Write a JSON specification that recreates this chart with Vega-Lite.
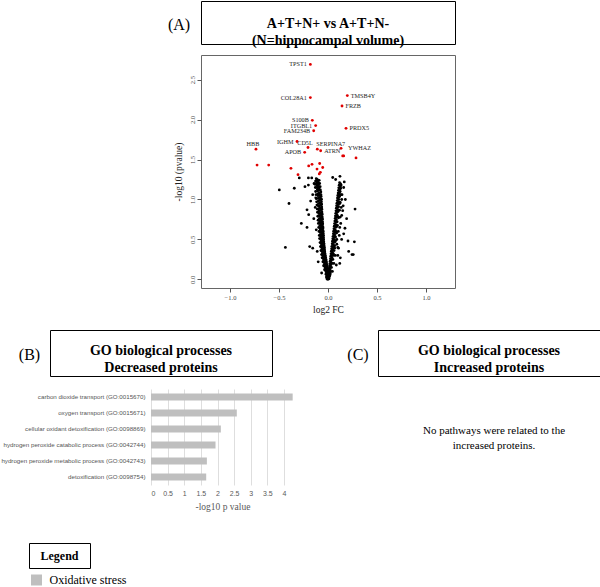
{
  "$schema": "https://vega.github.io/schema/vega-lite/v6.json",
  "padding": 0,
  "autosize": {"type": "pad"},
  "background": "white",
  "config": {"view": {"stroke": null}, "text": {"font": "Liberation Serif"}},
  "datasets": {
    "volcano": [
      {"fc":0.0,"p":0.0},{"fc":-0.01,"p":0.005},{"fc":0.01,"p":0.008},{"fc":0.003,"p":0.015},{"fc":-0.007,"p":0.045},{"fc":0.015,"p":0.035},
      {"fc":-0.015,"p":0.03},{"fc":0.018,"p":0.05},{"fc":-0.02,"p":0.065},{"fc":0.022,"p":0.075},{"fc":-0.012,"p":0.02},{"fc":0.008,"p":0.012},
      {"fc":0.002,"p":0.01},{"fc":-0.004,"p":0.02},{"fc":0.006,"p":0.025},{"fc":-0.009,"p":0.035},{"fc":0.001,"p":0.04},{"fc":0.009,"p":0.048},
      {"fc":-0.013,"p":0.055},{"fc":-0.003,"p":0.062},{"fc":0.012,"p":0.07},{"fc":-0.017,"p":0.078},{"fc":-0.006,"p":0.085},{"fc":0.004,"p":0.092},
      {"fc":-0.021,"p":0.1},{"fc":-0.011,"p":0.108},{"fc":0.014,"p":0.114},{"fc":-0.025,"p":0.122},{"fc":-0.014,"p":0.13},{"fc":-0.003,"p":0.137},
      {"fc":-0.029,"p":0.145},{"fc":-0.018,"p":0.152},{"fc":-0.008,"p":0.16},{"fc":-0.033,"p":0.168},{"fc":-0.022,"p":0.175},{"fc":-0.011,"p":0.183},
      {"fc":-0.036,"p":0.19},{"fc":-0.026,"p":0.198},{"fc":-0.015,"p":0.205},{"fc":-0.04,"p":0.213},{"fc":-0.029,"p":0.221},{"fc":-0.018,"p":0.228},
      {"fc":-0.044,"p":0.236},{"fc":-0.033,"p":0.244},{"fc":-0.021,"p":0.251},{"fc":-0.047,"p":0.259},{"fc":-0.036,"p":0.266},{"fc":-0.024,"p":0.274},
      {"fc":-0.051,"p":0.282},{"fc":-0.039,"p":0.289},{"fc":-0.027,"p":0.297},{"fc":-0.054,"p":0.305},{"fc":-0.042,"p":0.312},{"fc":-0.03,"p":0.32},
      {"fc":-0.057,"p":0.328},{"fc":-0.045,"p":0.336},{"fc":-0.033,"p":0.343},{"fc":-0.06,"p":0.352},{"fc":-0.047,"p":0.36},{"fc":-0.035,"p":0.368},
      {"fc":-0.062,"p":0.377},{"fc":-0.05,"p":0.385},{"fc":-0.037,"p":0.393},{"fc":-0.065,"p":0.402},{"fc":-0.052,"p":0.41},{"fc":-0.039,"p":0.418},
      {"fc":-0.067,"p":0.427},{"fc":-0.054,"p":0.436},{"fc":-0.041,"p":0.444},{"fc":-0.069,"p":0.453},{"fc":-0.056,"p":0.462},{"fc":-0.043,"p":0.47},
      {"fc":-0.071,"p":0.479},{"fc":-0.058,"p":0.488},{"fc":-0.045,"p":0.497},{"fc":-0.073,"p":0.506},{"fc":-0.06,"p":0.515},{"fc":-0.046,"p":0.524},
      {"fc":-0.075,"p":0.533},{"fc":-0.061,"p":0.542},{"fc":-0.048,"p":0.551},{"fc":-0.077,"p":0.56},{"fc":-0.063,"p":0.569},{"fc":-0.049,"p":0.578},
      {"fc":-0.079,"p":0.588},{"fc":-0.065,"p":0.597},{"fc":-0.051,"p":0.606},{"fc":-0.08,"p":0.616},{"fc":-0.066,"p":0.625},{"fc":-0.052,"p":0.634},
      {"fc":-0.082,"p":0.644},{"fc":-0.068,"p":0.653},{"fc":-0.054,"p":0.663},{"fc":-0.083,"p":0.673},{"fc":-0.069,"p":0.682},{"fc":-0.055,"p":0.692},
      {"fc":-0.085,"p":0.702},{"fc":-0.071,"p":0.712},{"fc":-0.056,"p":0.721},{"fc":-0.086,"p":0.731},{"fc":-0.072,"p":0.741},{"fc":-0.058,"p":0.751},
      {"fc":-0.088,"p":0.761},{"fc":-0.074,"p":0.771},{"fc":-0.059,"p":0.781},{"fc":-0.089,"p":0.791},{"fc":-0.075,"p":0.801},{"fc":-0.06,"p":0.811},
      {"fc":-0.091,"p":0.822},{"fc":-0.076,"p":0.832},{"fc":-0.062,"p":0.842},{"fc":-0.092,"p":0.853},{"fc":-0.078,"p":0.863},{"fc":-0.063,"p":0.873},
      {"fc":-0.094,"p":0.884},{"fc":-0.079,"p":0.894},{"fc":-0.064,"p":0.905},{"fc":-0.095,"p":0.916},{"fc":-0.081,"p":0.926},{"fc":-0.066,"p":0.937},
      {"fc":-0.097,"p":0.948},{"fc":-0.082,"p":0.959},{"fc":-0.067,"p":0.97},{"fc":-0.098,"p":0.981},{"fc":-0.084,"p":0.992},{"fc":-0.069,"p":1.003},
      {"fc":-0.1,"p":1.014},{"fc":-0.085,"p":1.025},{"fc":-0.07,"p":1.037},{"fc":-0.102,"p":1.048},{"fc":-0.087,"p":1.059},{"fc":-0.104,"p":1.071},
      {"fc":-0.089,"p":1.082},{"fc":-0.073,"p":1.093},{"fc":-0.106,"p":1.105},{"fc":-0.091,"p":1.117},{"fc":-0.108,"p":1.129},{"fc":-0.093,"p":1.14},
      {"fc":-0.11,"p":1.152},{"fc":-0.095,"p":1.164},{"fc":-0.113,"p":1.176},{"fc":-0.098,"p":1.188},{"fc":-0.116,"p":1.2},{"fc":-0.1,"p":1.212},
      {"fc":-0.119,"p":1.225},{"fc":-0.104,"p":1.237},{"fc":-0.11,"p":1.25},
      {"fc":-0.035,"p":0.12},{"fc":-0.045,"p":0.17},{"fc":-0.052,"p":0.22},{"fc":-0.06,"p":0.27},{"fc":-0.066,"p":0.31},{"fc":-0.072,"p":0.36},
      {"fc":-0.077,"p":0.41},{"fc":-0.081,"p":0.46},{"fc":-0.086,"p":0.51},{"fc":-0.089,"p":0.55},{"fc":-0.092,"p":0.6},{"fc":-0.095,"p":0.65},
      {"fc":-0.098,"p":0.7},{"fc":-0.101,"p":0.74},{"fc":-0.104,"p":0.79},{"fc":-0.107,"p":0.84},{"fc":-0.11,"p":0.88},{"fc":-0.113,"p":0.93},
      {"fc":-0.116,"p":0.97},{"fc":-0.119,"p":1.01},{"fc":-0.122,"p":1.06},{"fc":-0.126,"p":1.1},{"fc":-0.129,"p":1.15},{"fc":-0.133,"p":1.19},
      {"fc":-0.127,"p":1.23},{"fc":-0.12,"p":1.26},{"fc":-0.09,"p":1.24},{"fc":-0.085,"p":1.2},{"fc":-0.08,"p":1.16},{"fc":-0.078,"p":1.12},
      {"fc":-0.02,"p":0.16},{"fc":-0.024,"p":0.2},{"fc":-0.028,"p":0.25},{"fc":-0.032,"p":0.3},{"fc":-0.036,"p":0.35},{"fc":-0.04,"p":0.4},
      {"fc":-0.043,"p":0.45},{"fc":-0.046,"p":0.5},{"fc":-0.048,"p":0.55},{"fc":-0.05,"p":0.6},{"fc":-0.052,"p":0.65},{"fc":-0.055,"p":0.7},
      {"fc":-0.058,"p":0.76},{"fc":-0.061,"p":0.82},{"fc":-0.063,"p":0.88},{"fc":-0.066,"p":0.94},{"fc":-0.068,"p":1.0},{"fc":-0.072,"p":1.06},
      {"fc":0.008,"p":0.03},{"fc":0.013,"p":0.055},{"fc":0.004,"p":0.07},{"fc":0.017,"p":0.09},{"fc":0.009,"p":0.105},{"fc":0.021,"p":0.12},
      {"fc":0.012,"p":0.138},{"fc":0.025,"p":0.15},{"fc":0.016,"p":0.168},{"fc":0.029,"p":0.182},{"fc":0.019,"p":0.197},{"fc":0.032,"p":0.213},
      {"fc":0.022,"p":0.228},{"fc":0.036,"p":0.244},{"fc":0.025,"p":0.258},{"fc":0.04,"p":0.275},{"fc":0.028,"p":0.29},{"fc":0.058,"p":0.3},
      {"fc":0.043,"p":0.306},{"fc":0.031,"p":0.321},{"fc":0.046,"p":0.337},{"fc":0.034,"p":0.352},{"fc":0.05,"p":0.368},{"fc":0.037,"p":0.383},
      {"fc":0.068,"p":0.39},{"fc":0.053,"p":0.399},{"fc":0.04,"p":0.414},{"fc":0.056,"p":0.43},{"fc":0.043,"p":0.446},{"fc":0.059,"p":0.461},
      {"fc":0.046,"p":0.477},{"fc":0.078,"p":0.485},{"fc":0.062,"p":0.492},{"fc":0.049,"p":0.508},{"fc":0.065,"p":0.524},{"fc":0.052,"p":0.539},
      {"fc":0.068,"p":0.555},{"fc":0.055,"p":0.571},{"fc":0.088,"p":0.58},{"fc":0.071,"p":0.587},{"fc":0.058,"p":0.602},{"fc":0.074,"p":0.618},
      {"fc":0.061,"p":0.634},{"fc":0.077,"p":0.65},{"fc":0.064,"p":0.666},{"fc":0.097,"p":0.675},{"fc":0.08,"p":0.682},{"fc":0.067,"p":0.698},
      {"fc":0.083,"p":0.714},{"fc":0.07,"p":0.73},{"fc":0.086,"p":0.746},{"fc":0.073,"p":0.762},{"fc":0.108,"p":0.77},{"fc":0.089,"p":0.778},
      {"fc":0.076,"p":0.794},{"fc":0.092,"p":0.81},{"fc":0.079,"p":0.826},{"fc":0.095,"p":0.842},{"fc":0.082,"p":0.858},{"fc":0.117,"p":0.866},
      {"fc":0.098,"p":0.874},{"fc":0.085,"p":0.89},{"fc":0.101,"p":0.906},{"fc":0.088,"p":0.922},{"fc":0.104,"p":0.938},{"fc":0.091,"p":0.954},
      {"fc":0.125,"p":0.962},{"fc":0.107,"p":0.97},{"fc":0.094,"p":0.986},{"fc":0.11,"p":1.002},{"fc":0.097,"p":1.018},{"fc":0.113,"p":1.034},
      {"fc":0.1,"p":1.05},{"fc":0.131,"p":1.06},{"fc":0.116,"p":1.066},{"fc":0.104,"p":1.082},{"fc":0.119,"p":1.098},{"fc":0.107,"p":1.114},
      {"fc":0.122,"p":1.13},{"fc":0.11,"p":1.146},{"fc":0.126,"p":1.162},{"fc":0.114,"p":1.178},{"fc":0.129,"p":1.195},{"fc":0.118,"p":1.21},
      {"fc":0.02,"p":0.06},{"fc":0.028,"p":0.1},{"fc":0.035,"p":0.15},{"fc":0.042,"p":0.2},{"fc":0.05,"p":0.25},{"fc":0.055,"p":0.32},
      {"fc":0.062,"p":0.36},{"fc":0.068,"p":0.42},{"fc":0.072,"p":0.47},{"fc":0.077,"p":0.53},{"fc":0.082,"p":0.6},{"fc":0.088,"p":0.66},
      {"fc":0.093,"p":0.72},{"fc":0.098,"p":0.79},{"fc":0.103,"p":0.85},{"fc":0.108,"p":0.91},{"fc":0.113,"p":0.97},{"fc":0.118,"p":1.04},
      {"fc":0.124,"p":1.1},{"fc":0.129,"p":1.14},{"fc":0.134,"p":1.18},{"fc":0.06,"p":0.2},{"fc":0.075,"p":0.3},{"fc":0.09,"p":0.5},
      {"fc":0.1,"p":0.4},{"fc":0.115,"p":0.55},{"fc":0.12,"p":0.65},{"fc":0.125,"p":0.78},{"fc":0.135,"p":0.9},{"fc":0.14,"p":1.0},
      {"fc":-0.497,"p":1.12},{"fc":-0.398,"p":0.95},{"fc":-0.344,"p":1.14},{"fc":-0.272,"p":0.7},{"fc":-0.214,"p":0.87},{"fc":-0.214,"p":0.65},
      {"fc":-0.197,"p":0.81},{"fc":-0.435,"p":0.4},{"fc":-0.187,"p":0.41},{"fc":-0.156,"p":0.39},{"fc":-0.293,"p":1.27},{"fc":-0.235,"p":1.16},
      {"fc":-0.2,"p":1.18},{"fc":-0.2,"p":1.27},{"fc":-0.166,"p":1.27},{"fc":-0.142,"p":1.2},{"fc":-0.156,"p":1.06},{"fc":-0.177,"p":0.98},
      {"fc":0.048,"p":1.275},{"fc":0.122,"p":1.29},{"fc":0.166,"p":1.22},{"fc":0.078,"p":1.25},{"fc":0.276,"p":0.88},{"fc":0.177,"p":1.0},
      {"fc":0.16,"p":1.15},{"fc":0.143,"p":1.06},{"fc":0.15,"p":0.86},{"fc":0.139,"p":0.5},{"fc":0.204,"p":0.48},{"fc":0.269,"p":0.47},
      {"fc":0.211,"p":0.35},{"fc":0.245,"p":0.31},{"fc":0.258,"p":0.31},{"fc":0.126,"p":0.27},{"fc":0.09,"p":0.44},{"fc":0.107,"p":0.39},
      {"fc":0.173,"p":0.64},{"fc":0.19,"p":0.76},{"fc":0.16,"p":0.57},{"fc":-0.13,"p":0.9},{"fc":-0.12,"p":0.62},{"fc":-0.11,"p":0.35},
      {"fc":-0.1,"p":0.22},{"fc":0.13,"p":0.7},{"fc":0.12,"p":0.95},{"fc":0.105,"p":0.6},{"fc":0.14,"p":0.8},{"fc":0.155,"p":0.92},
      {"fc":-0.145,"p":0.76},{"fc":-0.125,"p":1.02},{"fc":0.085,"p":0.18},{"fc":-0.065,"p":0.08},{"fc":0.045,"p":0.1},{"fc":0.12,"p":0.2},{"fc":0.1,"p":0.3},
      {"fc":-0.724,"p":1.43},{"fc":-0.605,"p":1.43},{"fc":-0.378,"p":1.39},{"fc":-0.306,"p":1.31},{"fc":-0.197,"p":1.42},{"fc":-0.163,"p":1.44},
      {"fc":-0.112,"p":1.38},{"fc":-0.085,"p":1.45},{"fc":-0.054,"p":1.4},{"fc":-0.078,"p":1.34},{"fc":-0.089,"p":1.32},
      {"fc":0.15,"p":1.545},{"fc":0.16,"p":1.545},{"fc":0.286,"p":1.52},
      {"fc":-0.18,"p":2.69,"g":"TPST1"},{"fc":-0.18,"p":2.275,"g":"COL28A1"},{"fc":0.197,"p":2.3,"g":"TMSB4Y"},
      {"fc":0.143,"p":2.17,"g":"FRZB"},{"fc":-0.16,"p":1.99,"g":"S100B"},{"fc":-0.126,"p":1.925,"g":"ITGBL1"},
      {"fc":-0.146,"p":1.86,"g":"FAM234B"},{"fc":0.184,"p":1.89,"g":"PRDX5"},{"fc":-0.735,"p":1.63,"g":"HBB"},
      {"fc":-0.316,"p":1.725,"g":"IGHM"},{"fc":-0.204,"p":1.65,"g":"CD5L"},{"fc":-0.109,"p":1.63,"g":"SERPINA7"},
      {"fc":-0.075,"p":1.61,"g":"ATRN"},{"fc":-0.238,"p":1.59,"g":"APOB"},{"fc":0.133,"p":1.64,"g":"YWHAZ"}
    ],
    "go": [
      {"term":"carbon dioxide transport (GO:0015670)","v":4.26},
      {"term":"oxygen transport (GO:0015671)","v":2.58},
      {"term":"cellular oxidant detoxification (GO:0098869)","v":2.1},
      {"term":"hydrogen peroxide catabolic process (GO:0042744)","v":1.94},
      {"term":"hydrogen peroxide metabolic process (GO:0042743)","v":1.68},
      {"term":"detoxification (GO:0098754)","v":1.66}
    ]
  },
  "bounds": "flush",
  "spacing": 0,
  "vconcat": [
    {
      "bounds": "flush", "spacing": 0,
      "hconcat": [
        {"width": 156, "height": 43, "data": {"values": []}, "mark": "text", "encoding": {}},
        {"width": 44, "height": 43, "data": {"values": [{"t": "(A)"}]},
         "mark": {"type": "text", "font": "Liberation Serif", "fontSize": 16, "dy": 2, "color": "black"},
         "encoding": {"text": {"field": "t"}}},
        {"width": 254, "height": 43, "view": {"stroke": "black", "strokeWidth": 1},
         "data": {"values": [{"t": "A+T+N+ vs A+T+N-\n(N=hippocampal volume)"}]},
         "mark": {"type": "text", "font": "Liberation Serif", "fontSize": 14, "fontWeight": "bold", "lineBreak": "\n", "lineHeight": 17, "dy": 1, "color": "black"},
         "encoding": {"text": {"field": "t"}}}
      ]
    },
    {"width": 10, "height": 54, "data": {"values": []}, "mark": "text", "encoding": {}},
    {
      "bounds": "flush", "spacing": 0,
      "hconcat": [
        {"width": 200, "height": 233, "data": {"values": []}, "mark": "text", "encoding": {}},
        {
          "width": 254, "height": 233,
          "view": {"stroke": "#666", "strokeWidth": 1},
          "data": {"name": "volcano"},
          "encoding": {
            "x": {"field": "fc", "type": "quantitative",
                  "scale": {"domain": [-1.296, 1.296], "nice": false, "zero": false},
                  "axis": {"values": [-1, -0.5, 0, 0.5, 1], "format": ".1f", "title": "log2 FC", "grid": false, "domain": false,
                           "tickColor": "#555", "tickSize": 4, "labelFont": "Liberation Serif", "labelFontSize": 6.5, "labelColor": "#444",
                           "labelPadding": 2, "titleFont": "Liberation Serif", "titleFontSize": 9.5, "titleFontWeight": "normal",
                           "titleColor": "#222", "titlePadding": 4}},
            "y": {"field": "p", "type": "quantitative",
                  "scale": {"domain": [-0.108, 2.808], "nice": false, "zero": false},
                  "axis": {"values": [0, 0.5, 1, 1.5, 2, 2.5], "format": ".1f", "title": "-log10 (pvalue)", "grid": false, "domain": false,
                           "tickColor": "#555", "tickSize": 4, "labelFont": "Liberation Serif", "labelFontSize": 6.5, "labelColor": "#444",
                           "labelAngle": 270, "labelAlign": "center", "labelBaseline": "bottom", "labelPadding": 2,
                           "titleFont": "Liberation Serif", "titleFontSize": 9.5, "titleFontWeight": "normal",
                           "titleColor": "#222", "titlePadding": 6}}
          },
          "layer": [
            {"mark": {"type": "circle", "size": 8, "opacity": 1},
             "encoding": {"color": {"condition": {"test": "datum.p > 1.301", "value": "#e00000"}, "value": "black"}}},
            {"transform": [{"filter": {"field": "g", "oneOf": ["TPST1", "COL28A1", "S100B", "ITGBL1", "FAM234B", "IGHM", "APOB"]}}],
             "mark": {"type": "text", "font": "Liberation Serif", "align": "right", "dx": -3.5, "fontSize": 6.2, "color": "#222"},
             "encoding": {"text": {"field": "g"}}},
            {"transform": [{"filter": {"field": "g", "oneOf": ["TMSB4Y", "FRZB", "PRDX5", "ATRN"]}}],
             "mark": {"type": "text", "font": "Liberation Serif", "align": "left", "dx": 3.5, "fontSize": 6.2, "color": "#222"},
             "encoding": {"text": {"field": "g"}}},
            {"transform": [{"filter": {"field": "g", "oneOf": ["YWHAZ"]}}],
             "mark": {"type": "text", "font": "Liberation Serif", "align": "left", "dx": 7, "fontSize": 6.2, "color": "#222"},
             "encoding": {"text": {"field": "g"}}},
            {"transform": [{"filter": {"field": "g", "oneOf": ["HBB", "CD5L"]}}],
             "mark": {"type": "text", "font": "Liberation Serif", "align": "center", "dx": -3, "dy": -5, "fontSize": 6.2, "color": "#222"},
             "encoding": {"text": {"field": "g"}}},
            {"transform": [{"filter": {"field": "g", "oneOf": ["SERPINA7"]}}],
             "mark": {"type": "text", "font": "Liberation Serif", "align": "left", "dx": -1, "dy": -5.5, "fontSize": 6.2, "color": "#222"},
             "encoding": {"text": {"field": "g"}}}
          ]
        }
      ]
    },
    {"width": 10, "height": 275, "data": {"values": []}, "mark": "text", "encoding": {}},
    {
      "bounds": "flush", "spacing": 0,
      "hconcat": [
        {"width": 8, "height": 46, "data": {"values": []}, "mark": "text", "encoding": {}},
        {"width": 41, "height": 46, "data": {"values": [{"t": "(B)"}]},
         "mark": {"type": "text", "font": "Liberation Serif", "fontSize": 16, "dy": 2, "color": "black"},
         "encoding": {"text": {"field": "t"}}},
        {"width": 222, "height": 46, "view": {"stroke": "black", "strokeWidth": 1},
         "data": {"values": [{"t": "GO biological processes\nDecreased proteins"}]},
         "mark": {"type": "text", "font": "Liberation Serif", "fontSize": 14, "fontWeight": "bold", "lineBreak": "\n", "lineHeight": 17, "dy": -2, "color": "black"},
         "encoding": {"text": {"field": "t"}}},
        {"width": 66, "height": 46, "data": {"values": []}, "mark": "text", "encoding": {}},
        {"width": 40, "height": 46, "data": {"values": [{"t": "(C)"}]},
         "mark": {"type": "text", "font": "Liberation Serif", "fontSize": 16, "dy": 2, "color": "black"},
         "encoding": {"text": {"field": "t"}}},
        {"width": 222, "height": 46, "view": {"stroke": "black", "strokeWidth": 1},
         "data": {"values": [{"t": "GO biological processes\nIncreased proteins"}]},
         "mark": {"type": "text", "font": "Liberation Serif", "fontSize": 14, "fontWeight": "bold", "lineBreak": "\n", "lineHeight": 17, "dy": -2, "color": "black"},
         "encoding": {"text": {"field": "t"}}}
      ]
    },
    {"width": 10, "height": 59, "data": {"values": []}, "mark": "text", "encoding": {}},
    {
      "bounds": "flush", "spacing": 0,
      "hconcat": [
        {"width": 150, "height": 96, "data": {"values": []}, "mark": "text", "encoding": {}},
        {
          "width": 143, "height": 96,
          "data": {"name": "go"},
          "mark": {"type": "bar", "color": "#bfbfbf"},
          "encoding": {
            "y": {"field": "term", "type": "nominal", "sort": null,
                  "scale": {"paddingInner": 0.55, "paddingOuter": 0.275},
                  "axis": {"title": null, "domain": false, "ticks": false, "labelPadding": 6, "labelFont": "Liberation Sans",
                           "labelFontSize": 6.2, "labelColor": "#555555", "labelLimit": 200}},
            "x": {"field": "v", "type": "quantitative",
                  "scale": {"domain": [0, 4.3], "nice": false},
                  "axis": {"values": [0, 0.5, 1, 1.5, 2, 2.5, 3, 3.5, 4], "format": "~g", "grid": true, "gridColor": "#dedede",
                           "domain": false, "ticks": false, "labelPadding": 4, "labelFont": "Liberation Sans", "labelFontSize": 7,
                           "labelColor": "#595959", "title": "-log10 p value", "titleFont": "Liberation Serif", "titleFontSize": 9.5,
                           "titleFontWeight": "normal", "titleColor": "#595959", "titlePadding": 5}}
          }
        },
        {"width": 150, "height": 83, "data": {"values": []}, "mark": "text", "encoding": {}},
        {"width": 100, "height": 83, "data": {"values": [{"t": "No pathways were related to the\nincreased proteins."}]},
         "mark": {"type": "text", "font": "Liberation Serif", "fontSize": 11, "lineBreak": "\n", "lineHeight": 15, "color": "black"},
         "encoding": {"text": {"field": "t"}}}
      ]
    },
    {"width": 10, "height": 154, "data": {"values": []}, "mark": "text", "encoding": {}},
    {
      "bounds": "flush", "spacing": 0,
      "hconcat": [
        {"width": 28, "height": 25, "data": {"values": []}, "mark": "text", "encoding": {}},
        {"width": 61, "height": 25, "view": {"stroke": "black", "strokeWidth": 1},
         "data": {"values": [{"t": "Legend"}]},
         "mark": {"type": "text", "font": "Liberation Serif", "fontSize": 12, "fontWeight": "bold", "color": "black"},
         "encoding": {"text": {"field": "t"}}}
      ]
    },
    {"width": 10, "height": 31, "data": {"values": []}, "mark": "text", "encoding": {}},
    {
      "bounds": "flush", "spacing": 0,
      "hconcat": [
        {"width": 30, "height": 12, "data": {"values": []}, "mark": "text", "encoding": {}},
        {"width": 11, "height": 12, "data": {"values": [{"k": "Oxidative stress"}]},
         "mark": {"type": "square", "size": 121, "filled": true, "color": "#bfbfbf", "opacity": 1},
         "encoding": {}},
        {"width": 7, "height": 12, "data": {"values": []}, "mark": "text", "encoding": {}},
        {"width": 78, "height": 12, "data": {"values": [{"k": "Oxidative stress"}]},
         "mark": {"type": "text", "font": "Liberation Serif", "fontSize": 12, "color": "black"},
         "encoding": {"text": {"field": "k"}}}
      ]
    }
  ]
}
